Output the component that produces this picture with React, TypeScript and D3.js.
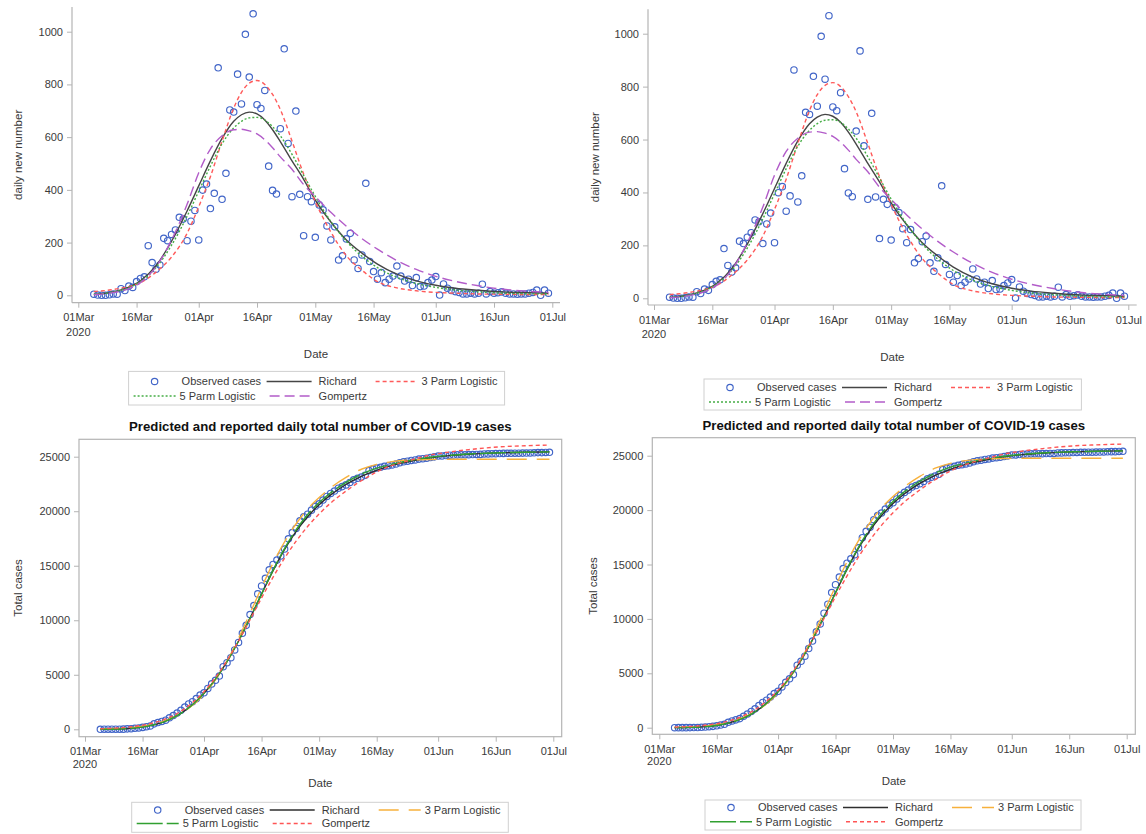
import React, { useEffect, useRef } from 'react'
import * as d3 from 'd3'

const FONT = '"Liberation Sans", Arial, Helvetica, sans-serif'
const AXIS = '#b4b4b4'
const TEXT = '#3a3a3a'

// observed values, one per day, first one is 05Mar2020 (day 4 after 01Mar2020)
const firstObsDay = 4

const dailyObserved = [
  4, 1, 0, 0, 2, 5, 4, 25, 18, 35,
  30, 52, 64, 70, 188, 124, 99, 115, 216, 207,
  231, 248, 296, 289, 207, 281, 322, 210, 399, 422,
  329, 387, 863, 364, 463, 703, 695, 839, 726, 990,
  828, 1068, 723, 709, 777, 490, 398, 384, 632, 935,
  576, 374, 699, 383, 226, 374, 355, 220, 343, 324,
  263, 210, 260, 134, 150, 214, 235, 134, 102, 153,
  425, 128, 90, 61, 86, 48, 61, 73, 111, 73,
  54, 61, 37, 67, 33, 35, 48, 58, 71, 1,
  43, 27, 18, 14, 11, 5, 5, 8, 5, 8,
  42, 5, 14, 8, 10, 13, 8, 5, 5, 4,
  5, 5, 8, 11, 20, 0, 20, 8,
]

const totalObserved = [
  4, 5, 5, 5, 7, 12, 16, 41, 59, 94,
  124, 176, 240, 310, 498, 622, 721, 836, 1052, 1259,
  1490, 1738, 2034, 2323, 2530, 2811, 3133, 3343, 3742, 4164,
  4493, 4880, 5743, 6107, 6570, 7273, 7968, 8807, 9533, 10523,
  11351, 12419, 13142, 13851, 14628, 15118, 15516, 15900, 16532, 17467,
  18043, 18417, 19116, 19499, 19725, 20099, 20454, 20674, 21025, 21357,
  21628, 21846, 22114, 22256, 22414, 22636, 22879, 23021, 23131, 23292,
  23725, 23861, 23959, 24028, 24122, 24178, 24247, 24328, 24447, 24528,
  24590, 24659, 24704, 24779, 24820, 24863, 24919, 24985, 25064, 25067,
  25110, 25137, 25155, 25169, 25180, 25185, 25190, 25198, 25203, 25211,
  25253, 25258, 25272, 25280, 25290, 25303, 25311, 25316, 25321, 25325,
  25330, 25335, 25343, 25354, 25374, 25374, 25394, 25402,
]

// fitted curves (days after 01Mar2020)
const dailyFitDays = [4, 8, 12, 16, 20, 24, 28, 31, 34, 37, 40, 42, 44, 46, 48, 50, 52, 55, 58, 61, 65, 69, 73, 77, 82, 87, 92, 97, 103, 110, 116, 121]
const dailyRichard = [3, 10, 25, 55, 112, 205, 320, 415, 510, 595, 660, 685, 695, 688, 665, 628, 583, 510, 440, 361, 278, 210, 160, 118, 80, 55, 38, 27, 19, 12, 10, 8]
const daily3Parm = [14, 20, 30, 48, 88, 145, 235, 336, 450, 585, 710, 770, 805, 815, 800, 762, 705, 585, 460, 355, 240, 150, 95, 52, 28, 17, 11, 8, 5, 4, 3, 3]
const daily5Parm = [4, 10, 24, 52, 105, 190, 300, 395, 490, 575, 635, 660, 673, 675, 665, 640, 605, 535, 455, 375, 280, 205, 148, 105, 68, 45, 30, 20, 13, 8, 6, 5]
const dailyGompertz = [2, 8, 20, 48, 108, 210, 345, 465, 555, 605, 628, 630, 624, 612, 590, 560, 525, 478, 420, 374, 315, 262, 215, 175, 132, 98, 72, 53, 36, 22, 15, 11]

const totalFitDays = [4, 8, 12, 16, 20, 24, 28, 31, 34, 37, 40, 43, 46, 49, 52, 55, 58, 61, 64, 68, 72, 76, 80, 85, 90, 95, 100, 108, 115, 121]
const totalRichard = [5, 30, 100, 270, 620, 1250, 2250, 3300, 4600, 6200, 8100, 10200, 12400, 14550, 16500, 18150, 19500, 20600, 21500, 22450, 23200, 23750, 24200, 24600, 24900, 25100, 25230, 25350, 25410, 25440]
const total5Parm = [5, 30, 100, 270, 620, 1250, 2250, 3300, 4600, 6200, 8100, 10200, 12400, 14600, 16600, 18300, 19700, 20800, 21700, 22650, 23400, 23950, 24320, 24680, 24950, 25130, 25250, 25360, 25410, 25440]
const total3Parm = [30, 70, 150, 330, 680, 1260, 2200, 3200, 4550, 6250, 8350, 10650, 13000, 15250, 17200, 18850, 20200, 21250, 22150, 23100, 23850, 24300, 24550, 24700, 24745, 24760, 24765, 24770, 24770, 24770]
const totalGompertz = [50, 110, 230, 440, 820, 1450, 2450, 3450, 4750, 6300, 8100, 10050, 12050, 13950, 15700, 17250, 18600, 19750, 20750, 21850, 22800, 23600, 24200, 24700, 25150, 25430, 25650, 25900, 26010, 26070]

const tickDates = ['2020-03-01', '2020-03-16', '2020-04-01', '2020-04-16', '2020-05-01', '2020-05-16', '2020-06-01', '2020-06-16', '2020-07-01']
const dailyTicks = [0, 200, 400, 600, 800, 1000]
const totalTicks = [0, 5000, 10000, 15000, 20000, 25000]

const title = 'Predicted and reported daily total number of COVID-19 cases'

const parseDay = d3.utcParse('%Y-%m-%d')
const day0 = parseDay('2020-03-01')!.getTime()
const toDate = (d: number) => new Date(day0 + d * 86400000)

// line styles
const dailyFits = [
  { name: 'Richard', vals: dailyRichard, color: '#454545', dash: null },
  { name: '3 Parm Logistic', vals: daily3Parm, color: '#ff5a5a', dash: '4,3' },
  { name: '5 Parm Logistic', vals: daily5Parm, color: '#45ad45', dash: '2,2' },
  { name: 'Gompertz', vals: dailyGompertz, color: '#b25cc9', dash: '10,5' },
]
const totalFits = [
  { name: 'Richard', vals: totalRichard, color: '#2e2e2e', dash: null },
  { name: '3 Parm Logistic', vals: total3Parm, color: '#f7b13c', dash: '20,10' },
  { name: '5 Parm Logistic', vals: total5Parm, color: '#31a031', dash: '26,4' },
  { name: 'Gompertz', vals: totalGompertz, color: '#ff5555', dash: '4,3' },
]

const panels = [
  { kind: 'daily', left: 72, right: 560, top: 7, bottom: 302.7, xMar: 78.3, xJul: 552.3, yZero: 295.3, yRefPx: 31.7, box: false,
    yLabelX: 18, dateY: 353.6, yearGap: 14, legend: { x: 128.6, y: 371.4, w: 376, h: 33.6, r1: 381.5, r2: 396 } },
  { kind: 'daily', left: 648, right: 1136.7, top: 9.3, bottom: 305, xMar: 654, xJul: 1128.3, yZero: 298.3, yRefPx: 33.7, box: false,
    yLabelX: 595, dateY: 357, yearGap: 14, legend: { x: 704, y: 379, w: 377.4, h: 31, r1: 387.5, r2: 402 } },
  { kind: 'total', left: 79, right: 561.7, top: 439.3, bottom: 736.7, xMar: 85, xJul: 553.3, yZero: 729.3, yRefPx: 456.7, box: true,
    yLabelX: 18, dateY: 783.3, yearGap: 12, titleY: 426.7, legend: { x: 131.7, y: 802.3, w: 376.6, h: 30, r1: 810, r2: 823.5 } },
  { kind: 'total', left: 652.3, right: 1135.3, top: 437.7, bottom: 734.3, xMar: 659.3, xJul: 1126.7, yZero: 727.7, yRefPx: 455.7, box: true,
    yLabelX: 592.7, dateY: 780.7, yearGap: 12, titleY: 425, legend: { x: 705, y: 800, w: 376, h: 30, r1: 807.5, r2: 821.7 } },
]

function drawPanel(root: any, p: any) {
  const daily = p.kind === 'daily'
  const obs = daily ? dailyObserved : totalObserved
  const fits = daily ? dailyFits : totalFits
  const fitDays = daily ? dailyFitDays : totalFitDays
  const yTicks = daily ? dailyTicks : totalTicks
  const dates = tickDates.map(s => parseDay(s)!)

  const g = root.append('g')

  const x = d3.scaleUtc().domain([dates[0], dates[dates.length - 1]]).range([p.xMar, p.xJul])
  const y = d3.scaleLinear().domain([0, yTicks[yTicks.length - 1]]).range([p.yZero, p.yRefPx])

  // frame / axis lines
  if (p.box) {
    g.append('rect')
      .attr('x', p.left).attr('y', p.top)
      .attr('width', p.right - p.left).attr('height', p.bottom - p.top)
      .attr('fill', 'none').attr('stroke', AXIS).attr('stroke-width', 1.2)
  } else {
    g.append('line').attr('x1', p.left).attr('x2', p.left).attr('y1', p.top).attr('y2', p.bottom)
      .attr('stroke', AXIS).attr('stroke-width', 1.2)
    g.append('line').attr('x1', p.left).attr('x2', p.right).attr('y1', p.bottom).attr('y2', p.bottom)
      .attr('stroke', AXIS).attr('stroke-width', 1.2)
  }

  const xAxis = g.append('g')
    .attr('transform', `translate(0,${p.bottom})`)
    .call(d3.axisBottom(x).tickValues(dates).tickFormat(d3.utcFormat('%d%b') as any).tickSize(5).tickPadding(6))
  const yAxis = g.append('g')
    .attr('transform', `translate(${p.left},0)`)
    .call(d3.axisLeft(y).tickValues(yTicks).tickFormat(d3.format('d') as any).tickSize(5).tickPadding(4))

  ;[xAxis, yAxis].forEach(a => {
    a.select('.domain').remove()
    a.attr('font-family', FONT).attr('font-size', 11)
    a.selectAll('line').attr('stroke', AXIS)
    a.selectAll('text').attr('fill', TEXT)
  })

  // year under first date tick
  g.append('text')
    .attr('x', x(dates[0])).attr('y', p.bottom + 5 + 6 + 7.8 + p.yearGap)
    .attr('text-anchor', 'middle').attr('font-family', FONT).attr('font-size', 11).attr('fill', TEXT)
    .text('2020')

  // axis titles
  g.append('text')
    .attr('x', (p.left + p.right) / 2).attr('y', p.dateY).attr('dy', '0.35em')
    .attr('text-anchor', 'middle').attr('font-family', FONT).attr('font-size', 11.5).attr('fill', TEXT)
    .text('Date')
  g.append('text')
    .attr('transform', `translate(${p.yLabelX},${(p.top + p.bottom) / 2}) rotate(-90)`)
    .attr('dy', '0.35em')
    .attr('text-anchor', 'middle').attr('font-family', FONT).attr('font-size', 11.5).attr('fill', TEXT)
    .text(daily ? 'daily new number' : 'Total cases')

  if (!daily) {
    g.append('text')
      .attr('x', (p.left + p.right) / 2).attr('y', p.titleY).attr('dy', '0.35em')
      .attr('text-anchor', 'middle').attr('font-family', FONT).attr('font-size', 13.2).attr('font-weight', 'bold').attr('fill', '#111')
      .text(title)
  }

  // observed markers
  g.append('g')
    .selectAll('circle')
    .data(obs)
    .join('circle')
    .attr('cx', (_: number, i: number) => x(toDate(firstObsDay + i)))
    .attr('cy', (v: number) => y(v))
    .attr('r', 3.2)
    .attr('fill', 'none')
    .attr('stroke', '#4165c8')
    .attr('stroke-width', 1.15)

  // fitted curves
  const line = d3.line<number>()
    .x((_, i) => x(toDate(fitDays[i])))
    .y(v => y(v))
    .curve(d3.curveMonotoneX)

  fits.forEach(f => {
    g.append('path')
      .attr('d', line(f.vals))
      .attr('fill', 'none')
      .attr('stroke', f.color)
      .attr('stroke-width', 1.4)
      .attr('stroke-dasharray', f.dash)
  })

  // legend
  const L = p.legend
  const lg = g.append('g')
  lg.append('rect')
    .attr('x', L.x).attr('y', L.y).attr('width', L.w).attr('height', L.h)
    .attr('fill', 'none').attr('stroke', '#d0d0d0').attr('stroke-width', 1)

  const fitBy = (n: string) => fits.find(f => f.name === n)!
  const items = [
    { name: 'Observed cases', row: L.r1, sx: 5, ex: 47, tx: 53 },
    { name: 'Richard', row: L.r1, sx: 138, ex: 183, tx: 190 },
    { name: '3 Parm Logistic', row: L.r1, sx: 247, ex: 289, tx: 293 },
    { name: '5 Parm Logistic', row: L.r2, sx: 5, ex: 47, tx: 51 },
    { name: 'Gompertz', row: L.r2, sx: 141, ex: 182, tx: 190 },
  ]
  items.forEach(it => {
    if (it.name === 'Observed cases') {
      lg.append('circle')
        .attr('cx', L.x + (it.sx + it.ex) / 2).attr('cy', it.row).attr('r', 3.2)
        .attr('fill', 'none').attr('stroke', '#4165c8').attr('stroke-width', 1.15)
    } else {
      const f = fitBy(it.name)
      lg.append('line')
        .attr('x1', L.x + it.sx).attr('x2', L.x + it.ex).attr('y1', it.row).attr('y2', it.row)
        .attr('stroke', f.color).attr('stroke-width', 1.4).attr('stroke-dasharray', f.dash)
    }
    lg.append('text')
      .attr('x', L.x + it.tx).attr('y', it.row).attr('dy', '0.35em')
      .attr('font-family', FONT).attr('font-size', 11).attr('fill', TEXT)
      .text(it.name)
  })
}

export default function App() {
  const ref = useRef<SVGSVGElement>(null)

  useEffect(() => {
    const svg = d3.select(ref.current)
    svg.selectAll('*').remove()
    panels.forEach(p => drawPanel(svg, p))
  }, [])

  return (
    <svg
      ref={ref}
      width={1146}
      height={834}
      style={{ position: 'absolute', left: 0, top: 0, background: '#fff' }}
    />
  )
}
